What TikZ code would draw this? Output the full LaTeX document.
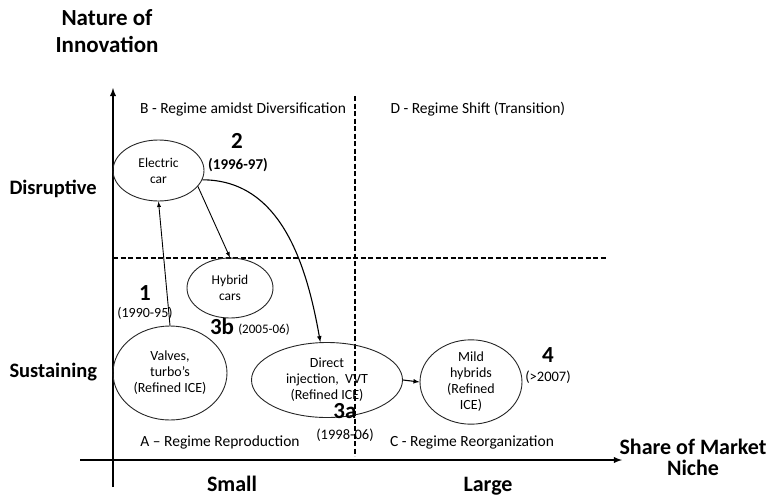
\documentclass[tikz,border=0pt]{standalone}
\usepackage{fontspec}
\setmainfont{Carlito}
\usetikzlibrary{shapes, arrows, positioning}

\begin{document}
\begin{tikzpicture}[x=1pt, y=-1pt,
    bubble/.style={draw=black!85, line width=0.9pt, ellipse, inner sep=0pt, align=center, font=\fontsize{14}{16}\selectfont},
    axislabel/.style={font=\bfseries\fontsize{22}{27}\selectfont, align=center},
    region/.style={font=\fontsize{15.5}{18}\selectfont},
    stage/.style={font=\bfseries\fontsize{23}{25}\selectfont},
    period/.style={font=\fontsize{14}{16}\selectfont},
    divider/.style={line width=1.8pt, dash pattern=on 5pt off 2.5pt}]
    \useasboundingbox (0,0) rectangle (773,498);

    % Axes
    \draw[line width=1.8pt, -latex] (113,487) -- (113,88);
    \draw[line width=1.8pt, -latex] (80,460) -- (622,460);

    % Quadrant borders
    \draw[divider] (355,96) -- (355,456);
    \draw[divider] (113,258) -- (607,258);

    % Axis labels
    \node[axislabel, font=\bfseries\fontsize{23}{27}\selectfont] (ytitle) at (107,31) {Nature of\\Innovation};
    \node[axislabel, font=\bfseries\fontsize{20.5}{24}\selectfont, anchor=base west] (disr) at (6,194) {Disruptive};
    \node[axislabel, font=\bfseries\fontsize{20.5}{24}\selectfont, anchor=base west] (sust) at (6,377) {Sustaining};
    \node[axislabel, anchor=base] (small) at (232,491) {Small};
    \node[axislabel, anchor=base] (large) at (488,491) {Large};
    \node[axislabel, font=\bfseries\fontsize{22}{21}\selectfont] (xtitle) at (693,457) {Share of Market\\Niche};

    % Regions
    \node[region, anchor=base] (regB) at (243,113) {B - Regime amidst Diversification};
    \node[region, anchor=base west] (regD) at (387,113) {D - Regime Shift (Transition)};
    \node[region, anchor=base] (regA) at (220,446) {A -- Regime Reproduction};
    \node[region, anchor=base] (regC) at (472,446) {C - Regime Reorganization};

    % Innovations
    \node[bubble, minimum width=91pt, minimum height=61pt, font=\fontsize{13.5}{16}\selectfont] (elec) at (158.5,170.5) {Electric\\car};
    \node[bubble, minimum width=86pt, minimum height=60pt, font=\fontsize{13.5}{15.5}\selectfont] (hybrid) at (230,288) {Hybrid\\cars};
    \node[bubble, minimum width=114pt, minimum height=94pt] (valves) at (170,373) {Valves,\\turbo's\\(Refined ICE)};
    \node[bubble, minimum width=151pt, minimum height=75pt] (direct) at (327,380) {Direct\\injection,\ \ VVT\\(Refined ICE)};
    \node[bubble, minimum width=102pt, minimum height=84pt] (mild) at (471,382) {Mild\\hybrids\\(Refined\\ICE)};

    % Stages
    \node[stage] (s1) at (145,293) {1};
    \node[period] (p1) at (145,313) {(1990-95)};
    \node[stage] (s2) at (237,141) {2};
    \node[period, font=\bfseries\fontsize{15}{17}\selectfont] (p2) at (238,165) {(1996-97)};
    \node[stage] (s3b) at (222,327) {3b};
    \node[period, font=\fontsize{13}{15}\selectfont] (p3b) at (264,330) {(2005-06)};
    \node[stage] (s3a) at (345,411) {3a};
    \node[period, font=\fontsize{14.5}{16}\selectfont] (p3a) at (345,435) {(1998-06)};
    \node[stage] (s4) at (548,355) {4};
    \node[period, font=\fontsize{14.5}{16}\selectfont] (p4) at (548,377) {(>2007)};

    % Transitions
    \draw[-latex, line width=0.9pt] (valves.north) -- (elec.south);
    \draw[-latex, line width=0.9pt] (elec.-22) -- (hybrid.north);
    \draw[-latex, line width=1.1pt] (elec.-12) to[out=0, in=100] (direct.100);
    \draw[-latex, line width=1.1pt] (direct.east) -- (mild.west);
\end{tikzpicture}
\end{document}
